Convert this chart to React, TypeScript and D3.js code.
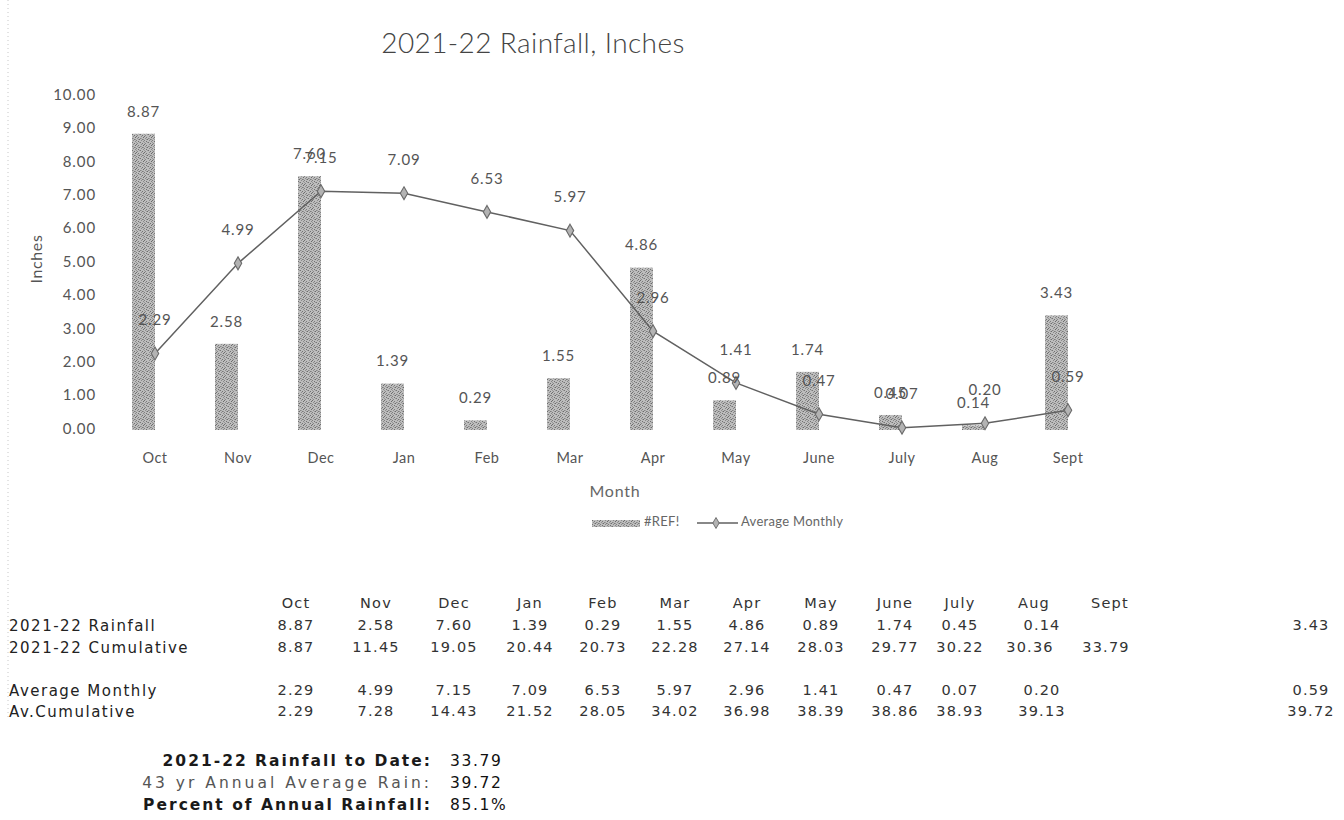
import React from "react";
import * as d3 from "d3";

const months = ["Oct", "Nov", "Dec", "Jan", "Feb", "Mar", "Apr", "May", "June", "July", "Aug", "Sept"];
const rainfall = [8.87, 2.58, 7.6, 1.39, 0.29, 1.55, 4.86, 0.89, 1.74, 0.45, 0.14, 3.43];
const cumulative = [8.87, 11.45, 19.05, 20.44, 20.73, 22.28, 27.14, 28.03, 29.77, 30.22, 30.36, 33.79];
const avgMonthly = [2.29, 4.99, 7.15, 7.09, 6.53, 5.97, 2.96, 1.41, 0.47, 0.07, 0.2, 0.59];
const avCumulative = [2.29, 7.28, 14.43, 21.52, 28.05, 34.02, 36.98, 38.39, 38.86, 38.93, 39.13, 39.72];

const tableRows = ["2021-22 Rainfall", "2021-22 Cumulative", "Average Monthly", "Av.Cumulative"];
const summaryLabels = ["2021-22 Rainfall to Date:", "43 yr Annual Average Rain:", "Percent of Annual Rainfall:"];
const summaryValues = ["33.79", "39.72", "85.1%"];

const W = 1344;
const H = 820;
const chartFont = "Lato, 'Open Sans', sans-serif";
const tableFont = "'DejaVu Sans', Verdana, sans-serif";

// table column centres (spreadsheet layout, uneven)
const colX = [296, 376, 454, 530, 603, 675, 747, 821, 895, 960, 1034, 1110];
const rowY = [626, 648, 691, 712];

// stipple dots for the scanned-looking bar fill (hand placed, 8x8 tile)
const dots: [number, number, string][] = [
  [0, 0, "#6e6e6e"], [5, 0, "#8c8c8c"], [2, 1, "#7c7c7c"], [7, 1, "#6a6a6a"],
  [4, 2, "#858585"], [1, 2, "#909090"], [6, 3, "#7a7a7a"], [3, 3, "#6c6c6c"],
  [0, 4, "#808080"], [5, 4, "#8a8a8a"], [2, 5, "#707070"], [7, 5, "#888888"],
  [4, 6, "#767676"], [1, 7, "#868686"], [6, 7, "#727272"], [3, 6, "#9a9a9a"],
  [7, 3, "#959595"], [0, 6, "#999999"], [5, 2, "#a0a0a0"], [2, 3, "#9c9c9c"],
];

const App = () => {
  const x = d3.scaleBand<string>().domain(months).range([113.5, 1109.5]);
  const y = d3.scaleLinear().domain([0, 10]).range([430, 96]);
  const cx = (m: string) => (x(m) || 0) + x.bandwidth() / 2;
  const barW = 23;

  const line = d3
    .line<number>()
    .x((_, i) => cx(months[i]))
    .y((d) => y(d));
  const diamond = d3.symbol(d3.symbolDiamond, 48)() || "";

  const rows = [rainfall, cumulative, avgMonthly, avCumulative];

  // x for a table value; Aug/Sept sit further right in some rows
  const valX = (r: number, i: number) => {
    if (r === 1) return colX[i] - (i >= 10 ? 4 : 0);
    if (i === 11) return 1311;
    if (i === 10) return colX[i] + 8;
    return colX[i];
  };

  const lbl = { fontFamily: chartFont, fontSize: 15, letterSpacing: 0.9, fill: "#555" };

  return (
    <div style={{ position: "absolute", left: 0, top: 0 }}>
      <svg width={W} height={H} style={{ display: "block", background: "#fff" }}>
        <defs>
          <pattern id="dither" width="8" height="8" patternUnits="userSpaceOnUse">
            <rect width="8" height="8" fill="#bdbdbd" />
            {dots.map(([dx, dy, c], i) => (
              <rect key={i} x={dx} y={dy} width="1" height="1" fill={c} />
            ))}
          </pattern>
        </defs>

        {/* scan edge */}
        <line x1={8} x2={8} y1={0} y2={720} stroke="#c8c8c8" strokeDasharray="1 3" />

        <text x={533} y={46} textAnchor="middle" dominantBaseline="middle" fontFamily={chartFont} fontWeight={300} fontSize={28} letterSpacing={0.4} fill="#444">
          2021-22 Rainfall, Inches
        </text>

        {/* y axis labels */}
        {y.ticks(10).map((t) => (
          <text key={t} x={96} y={y(t)} textAnchor="end" dominantBaseline="middle" {...lbl}>
            {t.toFixed(2)}
          </text>
        ))}
        <text
          transform={`translate(38, ${(y(0) + y(10)) / 2 - 4}) rotate(-90)`}
          textAnchor="middle"
          dominantBaseline="middle"
          fontFamily={chartFont}
          fontSize={16}
          letterSpacing={0.6}
          fill="#555"
        >
          Inches
        </text>

        {/* bars */}
        {rainfall.map((v, i) => (
          <rect
            key={months[i]}
            x={cx(months[i]) - barW}
            y={y(v)}
            width={barW}
            height={y(0) - y(v)}
            fill="url(#dither)"
          />
        ))}

        {/* line */}
        <path d={line(avgMonthly) || ""} fill="none" stroke="#616161" strokeWidth={1.5} />
        {avgMonthly.map((v, i) => (
          <path
            key={months[i]}
            d={diamond}
            transform={`translate(${cx(months[i])}, ${y(v)})`}
            fill="#b3b3b3"
            stroke="#6a6a6a"
            strokeWidth={1.1}
          />
        ))}

        {/* data labels */}
        {rainfall.map((v, i) => (
          <text key={"b" + i} x={cx(months[i]) - barW / 2} y={y(v) - 21} textAnchor="middle" dominantBaseline="middle" {...lbl}>
            {v.toFixed(2)}
          </text>
        ))}
        {avgMonthly.map((v, i) => (
          <text key={"l" + i} x={cx(months[i])} y={y(v) - 32} textAnchor="middle" dominantBaseline="middle" {...lbl}>
            {v.toFixed(2)}
          </text>
        ))}

        {/* category labels */}
        {months.map((m) => (
          <text key={m} x={cx(m)} y={459} textAnchor="middle" dominantBaseline="middle" {...lbl} fontSize={14.5} letterSpacing={0.5}>
            {m}
          </text>
        ))}
        <text x={615} y={493} textAnchor="middle" dominantBaseline="middle" fontFamily={chartFont} fontSize={16} letterSpacing={0.8} fill="#666">
          Month
        </text>

        {/* legend */}
        <rect x={592} y={520} width={48} height={7} fill="url(#dither)" />
        <text x={644} y={523} dominantBaseline="middle" fontFamily={chartFont} fontSize={13} letterSpacing={0.3} fill="#666">
          #REF!
        </text>
        <line x1={697} x2={738} y1={523} y2={523} stroke="#616161" strokeWidth={1.4} />
        <path d={diamond} transform="translate(716, 523) scale(0.85)" fill="#b3b3b3" stroke="#6a6a6a" strokeWidth={1.1} />
        <text x={741} y={523} dominantBaseline="middle" fontFamily={chartFont} fontSize={13} letterSpacing={0.3} fill="#666">
          Average Monthly
        </text>

        {/* table */}
        {months.map((m, i) => (
          <text key={"h" + m} x={colX[i]} y={604} textAnchor="middle" dominantBaseline="middle" fontFamily={tableFont} fontSize={14.5} letterSpacing={1.2} fill="#333">
            {m}
          </text>
        ))}
        {tableRows.map((r, ri) => (
          <g key={r}>
            <text x={9} y={rowY[ri]} dominantBaseline="middle" fontFamily={tableFont} fontSize={15} letterSpacing={1.5} fill="#222">
              {r}
            </text>
            {rows[ri].map((v, i) => (
              <text
                key={i}
                x={valX(ri, i)}
                y={rowY[ri]}
                textAnchor="middle"
                dominantBaseline="middle"
                fontFamily={tableFont}
                fontSize={14.5}
                letterSpacing={1.2}
                fill="#333"
              >
                {v.toFixed(2)}
              </text>
            ))}
          </g>
        ))}

        {/* summary */}
        {summaryLabels.map((s, i) => (
          <g key={s}>
            <text
              x={432}
              y={761 + i * 22}
              textAnchor="end"
              dominantBaseline="middle"
              fontFamily={tableFont}
              fontSize={15.5}
              fontWeight={i === 1 ? 400 : 700}
              letterSpacing={i === 1 ? 3 : 2}
              fill={i === 1 ? "#555" : "#1a1a1a"}
            >
              {s}
            </text>
            <text
              x={450}
              y={761 + i * 22}
              dominantBaseline="middle"
              fontFamily={tableFont}
              fontSize={15.5}
              letterSpacing={1.6}
              fill="#111"
            >
              {summaryValues[i]}
            </text>
          </g>
        ))}
      </svg>
    </div>
  );
};

export default App;
